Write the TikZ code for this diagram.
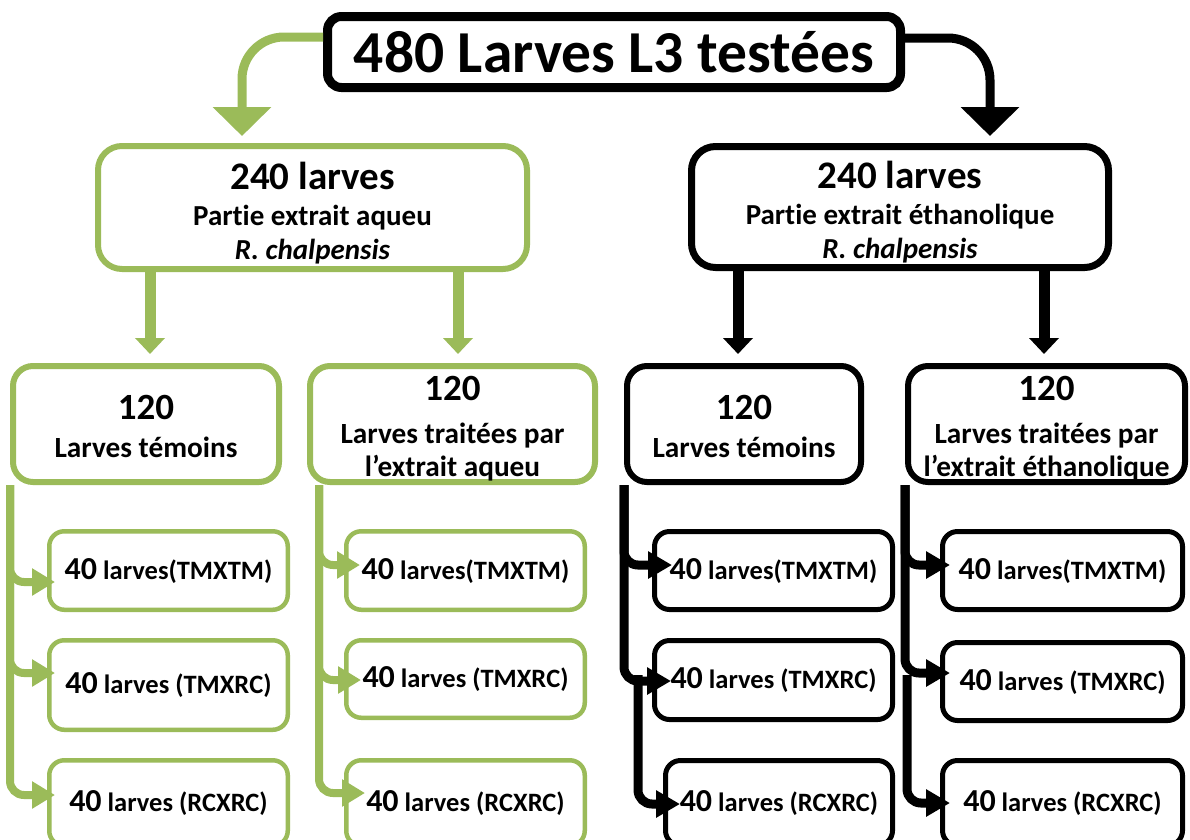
\documentclass[tikz,border=0pt]{standalone}
\usepackage{fontspec}
\setmainfont{Carlito}[Ligatures={NoCommon}]
\usetikzlibrary{arrows.meta,calc}
\definecolor{vert}{RGB}{155,187,89}
\newcommand{\lift}[1]{\rule{0pt}{#1}}
\begin{document}
\begin{tikzpicture}[x=1pt,y=-1pt,
  every node/.style={font=\bfseries, align=center, inner sep=0pt},
  topbox/.style={draw=black, line width=9pt, rounded corners=14pt, fill=white},
  gmid/.style={draw=vert, line width=6pt, rounded corners=24pt, fill=white, font=\bfseries\fontsize{29}{35}\selectfont},
  bmid/.style={draw=black, line width=7pt, rounded corners=24pt, fill=white, font=\bfseries\fontsize{29}{35}\selectfont},
  gbox/.style={draw=vert, line width=6pt, rounded corners=20pt, fill=white, minimum height=116pt, font=\bfseries\fontsize{29.3}{33}\selectfont},
  bbox/.style={draw=black, line width=6pt, rounded corners=20pt, fill=white, minimum height=116pt, font=\bfseries\fontsize{29.3}{33}\selectfont},
  gsub/.style={draw=vert, line width=4.5pt, rounded corners=15pt, fill=white, font=\bfseries\fontsize{26.5}{30}\selectfont},
  bsub/.style={draw=black, line width=5pt, rounded corners=15pt, fill=white, font=\bfseries\fontsize{26.5}{30}\selectfont},
  bigarrow/.style={line width=9pt, rounded corners=42pt, -{Triangle[width=57pt,length=29pt]}, shorten >=7pt},
  midarrow/.style={line width=11pt, -{Triangle[width=29pt,length=16pt]}, shorten >=9pt},
  gconn/.style={draw=vert, line width=8pt, rounded corners=14pt, -{Triangle[width=26pt,length=23pt]}},
  bconn/.style={draw=black, line width=9pt, rounded corners=14pt, -{Triangle[width=26pt,length=24pt]}},
  ]
\useasboundingbox (0,0) rectangle (1190,839);

% top
\node[topbox, minimum width=573pt, minimum height=71pt] (top) at (614,52)
  {\fontsize{59.5}{64}\selectfont 480 Larves L3 testées};

% middle
\node[gmid, minimum width=429pt, minimum height=123pt] (gm) at (312.5,207.5)
  {\fontsize{39}{40}\selectfont\lift{38pt}240 larves\\[1pt]
   Partie extrait aqueu\\[-1pt]
   \itshape R. chalpensis};
\node[bmid, minimum width=417pt, minimum height=121pt] (bm) at (900,207)
  {\fontsize{39}{40}\selectfont\lift{38pt}240 larves\\[1pt]
   Partie extrait éthanolique\\[-1pt]
   \itshape R. chalpensis};

% 120 boxes
\node[gbox, minimum width=266pt] (g1) at (146,424)
  {\fontsize{37}{40}\selectfont\lift{29pt}120\\[5pt]Larves témoins};
\node[gbox, minimum width=285pt] (g2) at (452.5,424)
  {\fontsize{37}{40}\selectfont\lift{34pt}120\\[10pt]Larves traitées par\\l’extrait aqueu};
\node[bbox, minimum width=234pt] (b1) at (744,424)
  {\fontsize{37}{40}\selectfont\lift{29pt}120\\[5pt]Larves témoins};
\node[bbox, minimum width=277pt] (b2) at (1046.5,424)
  {\fontsize{37}{40}\selectfont\lift{34pt}120\\[10pt]Larves traitées par\\l’extrait éthanolique};

% sub boxes
\node[gsub, minimum width=238.5pt, minimum height=78.5pt] (g1a) at (168.5,570.5)
  {{\fontsize{32}{36}\selectfont 40} larves(TMXTM)};
\node[gsub, minimum width=238.5pt, minimum height=89.5pt] (g1b) at (168.5,685)
  {{\fontsize{32}{36}\selectfont 40} larves (TMXRC)};
\node[gsub, minimum width=238.5pt, minimum height=85.5pt] (g1c) at (168.5,803)
  {{\fontsize{32}{36}\selectfont 40} larves (RCXRC)};

\node[gsub, minimum width=238.5pt, minimum height=78.5pt] (g2a) at (465.5,570.5)
  {{\fontsize{32}{36}\selectfont 40} larves(TMXTM)};
\node[gsub, minimum width=238.5pt, minimum height=77.5pt] (g2b) at (465.5,679)
  {{\fontsize{32}{36}\selectfont 40} larves (TMXRC)};
\node[gsub, minimum width=238.5pt, minimum height=85.5pt] (g2c) at (465.5,803)
  {{\fontsize{32}{36}\selectfont 40} larves (RCXRC)};

\node[bsub, minimum width=238pt, minimum height=78pt] (b1a) at (773.5,570.5)
  {{\fontsize{32}{36}\selectfont 40} larves(TMXTM)};
\node[bsub, minimum width=238pt, minimum height=79pt] (b1b) at (773.5,680)
  {{\fontsize{32}{36}\selectfont 40} larves (TMXRC)};
\node[bsub, minimum width=227pt, minimum height=85pt] (b1c) at (779,803)
  {{\fontsize{32}{36}\selectfont 40} larves (RCXRC)};

\node[bsub, minimum width=240pt, minimum height=78pt] (b2a) at (1062.5,570.5)
  {{\fontsize{32}{36}\selectfont 40} larves(TMXTM)};
\node[bsub, minimum width=240pt, minimum height=78pt] (b2b) at (1062.5,681.5)
  {{\fontsize{32}{36}\selectfont 40} larves (TMXRC)};
\node[bsub, minimum width=240pt, minimum height=85pt] (b2c) at (1062.5,803)
  {{\fontsize{32}{36}\selectfont 40} larves (RCXRC)};

% top arrows
\draw[bigarrow, draw=vert] (top.west |- 0,37) -| (gm.north -| 242,0);
\draw[bigarrow, draw=black] (top.east |- 0,38) -| (bm.north -| 990,0);

% middle arrows
\draw[midarrow, draw=vert] (gm.south -| 150,0) -- (g1.north -| 150,0);
\draw[midarrow, draw=vert] (gm.south -| 458,0) -- (g2.north -| 458,0);
\draw[midarrow, draw=black] (bm.south -| 738,0) -- (b1.north -| 738,0);
\draw[midarrow, draw=black] (bm.south -| 1044,0) -- (b2.north -| 1044,0);

% sub connectors
\coordinate (g2s) at ($(g2.south west)+(12,0)$);
\coordinate (b1s) at (638,675);
\coordinate (b2s) at (907,675);

\draw[gconn] (g1.south west) |- ($(g1a.west |- 0,582)+(8,0)$);
\draw[gconn] (g1.south west) |- ($(g1b.west |- 0,673)+(8,0)$);
\draw[gconn] (g1.south west) |- ($(g1c.west |- 0,795)+(8,0)$);

\draw[gconn] (g2s) |- ($(g2a.west |- 0,565)+(16,0)$);
\draw[gconn] (g2s) |- ($(g2b.west |- 0,680)+(17,0)$);
\draw[gconn] (g2s) |- ($(g2c.west |- 0,793)+(21,0)$);

\draw[bconn] (b1.south west) |- ($(b1a.west |- 0,565)+(20,0)$);
\draw[bconn] (b1.south west) |- ($(b1b.west |- 0,681)+(19,0)$);
\draw[bconn] (b1s) |- ($(b1c.west |- 0,804)+(17,0)$);

\draw[bconn] (b2.south west) |- ($(b2a.west |- 0,565)+(10,0)$);
\draw[bconn] (b2.south west) |- ($(b2b.west |- 0,673)+(10,0)$);
\draw[bconn] (b2s) |- ($(b2c.west |- 0,803)+(10,0)$);
\end{tikzpicture}
\end{document}
